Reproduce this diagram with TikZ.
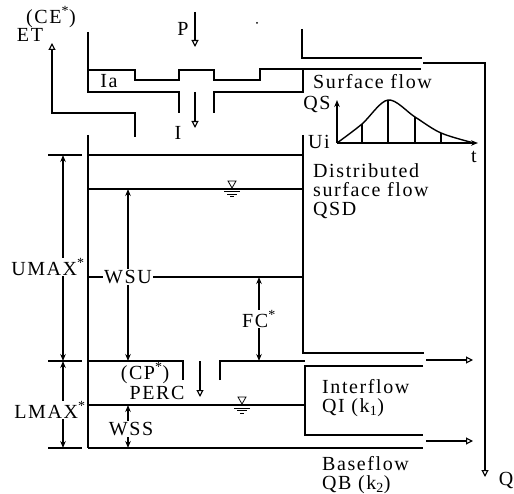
\documentclass[tikz,border=0pt]{standalone}
\usepackage{fontspec}
\setmainfont{Liberation Serif}[LetterSpace=8]
\usepackage{tikz}
\usetikzlibrary{arrows.meta,positioning,calc}

\tikzset{
  wall/.style={line width=1.4pt},
  flowarrow/.style={line width=1.1pt, -{Triangle[open,length=7pt,width=7pt]}},
  dimarrow/.style={line width=1.1pt, {Stealth[length=7pt,width=5.5pt]}-{Stealth[length=7pt,width=5.5pt]}},
  axisarrow/.style={line width=1.4pt, -{Stealth[length=7pt,width=5.5pt]}},
  lbl/.style={font=\fontsize{20}{19}\selectfont, inner sep=1pt},
  dimlbl/.style={lbl, fill=white},
  txt/.style={lbl, align=left, anchor=north west},
  wlevel/.pic={
    \draw[line width=0.8pt] (0,-1) -- (-4,-8) -- (4,-8) -- cycle;
    \draw[line width=1pt] (-8,3) -- (8,3) (-5,5.5) -- (5,5.5) (-2,8) -- (2,8);
  }
}

\begin{document}
\begin{tikzpicture}[x=1pt, y=-1pt]
        \useasboundingbox (0,0) rectangle (514,494);
        % Tank walls, top part (interception)
        \draw[wall] (88,32) -- (88,92) -- (179,92) -- (179,113);
        \draw[wall] (214,113) -- (214,92) -- (303,92) -- (303,69);
        \draw[wall] (88,70) -- (135,70) -- (135,80) -- (179,80) -- (179,70) -- (214,70)
                    -- (214,80) -- (260,80) -- (260,69) -- (421,69);
        \draw[wall] (302,29) -- (302,58) -- (422,58);
        \fill (257,23) circle (1pt);

        % Upper and lower soil tanks
        \draw[wall] (88,135) -- (88,448);
        \draw[wall] (303,135) -- (303,353) -- (424,353);
        \draw[wall] (88,155) -- (303,155);
        \draw[wall] (88,189) -- (303,189);
        \draw[wall] (88,277) -- (303,277);
        \draw[wall] (88,361) -- (183,361) -- (183,380);
        \draw[wall] (220,380) -- (220,361) -- (305,361);
        \draw[wall] (423,366) -- (305,366) -- (305,435) -- (423,435);
        \draw[wall] (88,405) -- (305,405);
        \draw[wall] (88,448) -- (423,448);
        \pic at (232,189) {wlevel};
        \pic at (242,405) {wlevel};

        % Dimension ticks and arrows
        \draw[wall] (48,155) -- (82,155) (48,361) -- (82,361) (48,448) -- (82,448);
        \coordinate (umaxtop) at (63,155);
        \coordinate (umaxbot) at (63,361);
        \coordinate (lmaxbot) at (63,448);
        \draw[dimarrow] (umaxtop) -- (umaxbot);
        \draw[dimarrow] (umaxbot) -- (lmaxbot);
        \draw[dimarrow] (128,189) -- (128,361);
        \draw[dimarrow] (259,277) -- (259,361);
        \draw[dimarrow] (128,405) -- (128,448);

        % Hydrograph of surface flow
        \coordinate (origin) at (337,143);
        \draw[axisarrow] (origin) -- (337,100);
        \draw[axisarrow] (origin) -- (478,143);
        \draw[wall] plot[smooth, tension=0.55] coordinates {(337,143) (362,124) (388,100) (415,117) (441,133) (474,143)};
        \foreach \hx/\hy in {362/124, 388/100, 415/117, 441/133}
            \draw[wall] (\hx,\hy) -- (\hx,143);

        % Labels
        \node[lbl] (ce) at (51,17) {(CE\textsuperscript{*})};
        \node[lbl] (et) at (30,35) {ET};
        \node[lbl] (p) at (183,29) {P};
        \node[lbl] (ia) at (109,81) {Ia};
        \node[lbl] (i) at (178,133) {I};
        \node[txt] (sflow) at (312,73) {Surface flow};
        \node[lbl] (qs) at (317,105) {QS};
        \node[lbl] (ui) at (319,142) {Ui};
        \node[lbl] (t) at (474,157) {t};
        \node[txt] (qsd) at (312,162) {Distributed\\surface flow\\QSD};
        \node[dimlbl] (umax) at (48,267) {UMAX\textsuperscript{*}};
        \node[dimlbl] (wsu) at (128,277) {WSU};
        \node[dimlbl] (fc) at (259,319) {FC\textsuperscript{*}};
        \node[lbl] (cp) at (145,373) {(CP\textsuperscript{*})};
        \node[lbl] (perc) at (157,393) {PERC};
        \node[dimlbl] (lmax) at (50,410) {LMAX\textsuperscript{*}};
        \node[dimlbl] (wss) at (131,429) {WSS};
        \node[txt] (qi) at (321,378) {Interflow\\QI (k\textsubscript{1})};
        \node[txt] (qb) at (321,455) {Baseflow\\QB (k\textsubscript{2})};
        \node[lbl] (q) at (506,480) {Q};

        % Flow arrows
        \coordinate (etstart) at (135,137);
        \coordinate (ettip) at (52,43);
        \draw[flowarrow] (etstart) -- (135,113) -| (ettip);
        \coordinate (ptop) at (195,12);
        \draw[flowarrow] (ptop) -- (195,47);
        \coordinate (itop) at (195,92);
        \draw[flowarrow] (itop) -- (195,128);
        \coordinate (perctop) at (200,361);
        \draw[flowarrow] (perctop) -- (200,397);
        \draw[flowarrow] (426,360) -- (473,360);
        \draw[flowarrow] (426,441) -- (473,441);
        \coordinate (qtop) at (423,63);
        \draw[flowarrow] (qtop) -- (485,63) -- (485,477);
    \end{tikzpicture}
\end{document}
